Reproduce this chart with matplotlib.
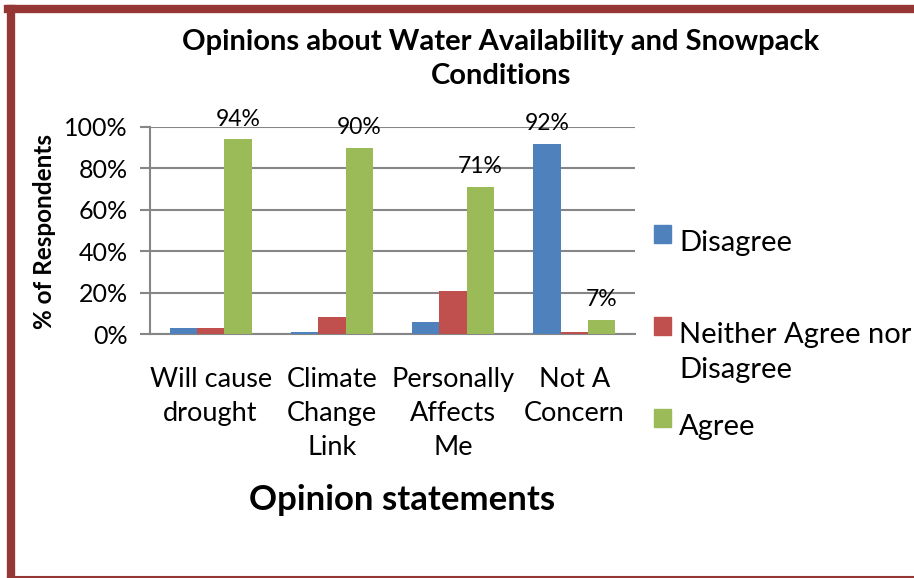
import matplotlib
matplotlib.use("Agg")
import matplotlib.pyplot as plt
import numpy as np
from matplotlib.lines import Line2D
from matplotlib.patches import Rectangle

# data
statements = ["Will cause\ndrought", "Climate\nChange\nLink", "Personally\nAffects\nMe", "Not A\nConcern"]
disagree = [0.03, 0.01, 0.06, 0.92]
neither = [0.03, 0.08, 0.21, 0.01]
agree = [0.94, 0.90, 0.71, 0.07]
series_names = ["Disagree", "Neither Agree nor\nDisagree", "Agree"]
labelled = {("Agree", 0), ("Agree", 1), ("Agree", 2), ("Agree", 3), ("Disagree", 3)}
y_ticks = [0, 0.2, 0.4, 0.6, 0.8, 1.0]

colors = ["#4F81BD", "#C0504D", "#9BBB59"]
border = "#953735"
grid = "#868686"

plt.rcParams['font.family'] = ['Lato', 'DejaVu Sans']

W, H = 914, 578
fig = plt.figure(figsize=(W / 100, H / 100), dpi=100)
ax = fig.add_axes([150 / W, 1 - 334 / H, 485 / W, 207 / H])

x = np.arange(len(statements))
w = 0.225
for k, (name, vals) in enumerate(zip(["Disagree", "Neither", "Agree"], [disagree, neither, agree])):
    bars = ax.bar(x + (k - 1) * w, vals, width=w, color=colors[k], zorder=3)
    for i, b in enumerate(bars):
        if (name, i) in labelled:
            ax.annotate("{:.0%}".format(vals[i]), (b.get_x() + b.get_width() / 2, vals[i]),
                        xytext=(0, 7), textcoords="offset points",
                        ha="center", va="bottom", fontsize=16.5)

ax.set_xlim(-0.5, 3.5)
ax.set_ylim(0, 1)
ax.set_yticks(y_ticks)
ax.set_yticklabels(["{:.0%}".format(t) for t in y_ticks], fontsize=18)
ax.set_xticks(x)
ax.set_xticklabels(statements, fontsize=19.5, linespacing=1.45, va="top")
ax.tick_params(axis="x", length=0, pad=24)
ax.tick_params(axis="y", length=7, width=1.5, color=grid, pad=9)
ax.yaxis.grid(True, color=grid, linewidth=1.5, zorder=0)
ax.set_axisbelow(True)
for s in ["top", "right"]:
    ax.spines[s].set_visible(False)
ax.spines["left"].set_color(grid)
ax.spines["left"].set_linewidth(1.5)
ax.spines["bottom"].set_color(grid)
ax.spines["bottom"].set_linewidth(1.5)

fig.text(45 / W, 1 - 232 / H, "% of Respondents", rotation=90, ha="center", va="center",
         fontsize=17.5, fontweight="bold")
fig.text(402 / W, 1 - 500 / H, "Opinion statements", ha="center", va="center",
         fontsize=25, fontweight="bold")
fig.text(501 / W, 1 - 59 / H, "Opinions about Water Availability and Snowpack\nConditions",
         ha="center", va="center", fontsize=21, fontweight="bold", linespacing=1.42)

# legend, placed like the original
leg_y = [234, 326, 418]
for c, name, yy in zip(colors, series_names, leg_y):
    fig.add_artist(Rectangle((654 / W, 1 - (yy + 9) / H), 17 / W, 18 / H, color=c,
                             transform=fig.transFigure))
    fig.text(679 / W, 1 - (yy - 4) / H, name, ha="left", va="top", fontsize=21, linespacing=1.45)

# dark red frame round the chart area
fig.add_artist(Line2D([11 / W, 11 / W], [0, 1 - 9 / H], color=border, lw=6, transform=fig.transFigure))
fig.add_artist(Line2D([8 / W, 1], [1 - 9 / H, 1 - 9 / H], color=border, lw=6, transform=fig.transFigure))
fig.add_artist(Line2D([8 / W, 1], [1.5 / H, 1.5 / H], color=border, lw=1.5, transform=fig.transFigure))

fig.savefig("out.png", dpi=100)
